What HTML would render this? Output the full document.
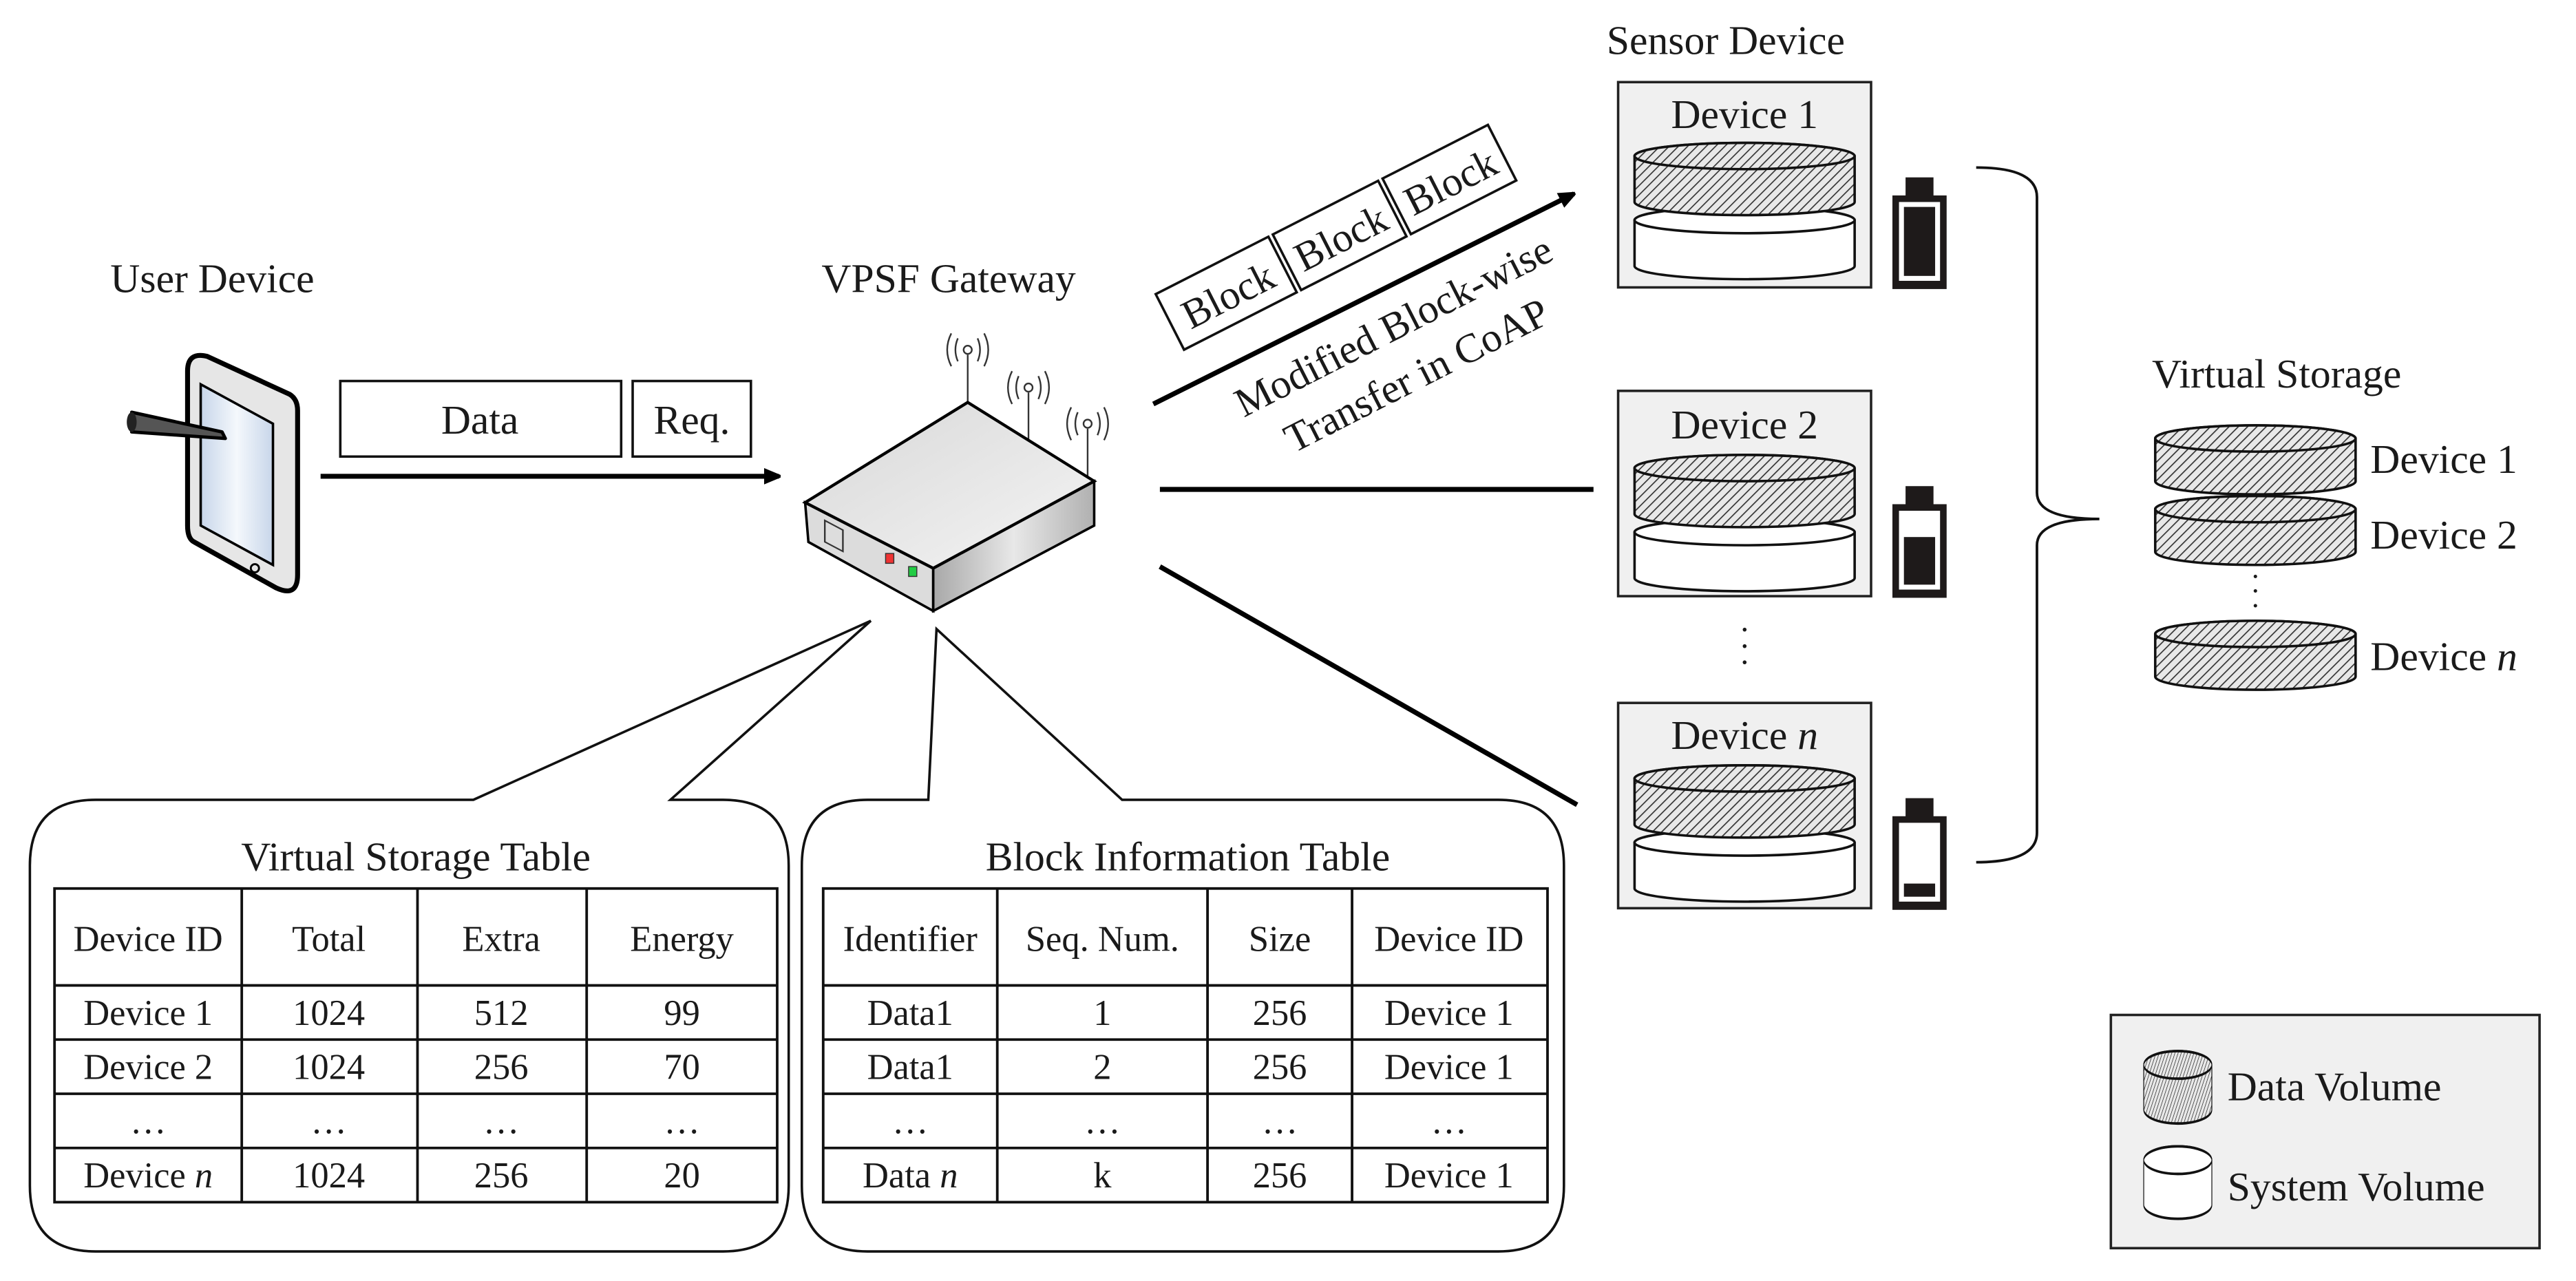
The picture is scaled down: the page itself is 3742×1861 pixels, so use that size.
<!DOCTYPE html>
<html><head><meta charset="utf-8"><style>
html,body{margin:0;padding:0;background:#fff}
svg{display:block}
text{font-family:"Liberation Serif",serif;fill:#1a1a1a}
</style></head><body>
<svg width="3742" height="1861" viewBox="0 0 1568 780" xmlns="http://www.w3.org/2000/svg">
<defs>
<pattern id="h" width="4" height="4" patternUnits="userSpaceOnUse" patternTransform="rotate(45)">
<rect width="4" height="4" fill="#e8e8e8"/><line x1="0" y1="0" x2="0" y2="4" stroke="#333" stroke-width="1.4"/>
</pattern>
<linearGradient id="scr" x1="0" y1="0" x2="1" y2="0"><stop offset="0" stop-color="#c8d6ea"/><stop offset="0.5" stop-color="#f4f8fc"/><stop offset="1" stop-color="#c8d6ea"/></linearGradient>
<linearGradient id="rt" x1="0" y1="0" x2="1" y2="1"><stop offset="0" stop-color="#d8d8d8"/><stop offset="1" stop-color="#f4f4f4"/></linearGradient>
<linearGradient id="rr" x1="0" y1="0" x2="1" y2="0"><stop offset="0" stop-color="#a8a8a8"/><stop offset="0.5" stop-color="#e8e8e8"/><stop offset="1" stop-color="#b0b0b0"/></linearGradient>
<marker id="ar" markerWidth="10" markerHeight="10" refX="9" refY="5" orient="auto" markerUnits="userSpaceOnUse"><path d="M0,0 L12,5 L0,10 z" fill="#000"/></marker>
<g id="cylH">
<path d="M0,8 A61,8 0 0 1 122,8 L122,34 A61,8 0 0 1 0,34 Z" fill="url(#h)" stroke="#111" stroke-width="1.5"/>
<ellipse cx="61" cy="8" rx="61" ry="8" fill="url(#h)" stroke="#111" stroke-width="1.5"/>
</g>
<g id="cylW">
<path d="M0,8 A61,8 0 0 1 122,8 L122,34 A61,8 0 0 1 0,34 Z" fill="#fff" stroke="#111" stroke-width="1.5"/>
<ellipse cx="61" cy="8" rx="61" ry="8" fill="#fff" stroke="#111" stroke-width="1.5"/>
</g>
<g id="dH">
<path d="M0,8 A67,8 0 0 1 134,8 L134,36 A67,8 0 0 1 0,36 Z" fill="url(#h)" stroke="#111" stroke-width="1.5"/>
<ellipse cx="67" cy="8" rx="67" ry="8" fill="url(#h)" stroke="#111" stroke-width="1.5"/>
</g>
<g id="dW">
<path d="M0,8 A67,8 0 0 1 134,8 L134,36 A67,8 0 0 1 0,36 Z" fill="#fff" stroke="#111" stroke-width="1.5"/>
<ellipse cx="67" cy="8" rx="67" ry="8" fill="#fff" stroke="#111" stroke-width="1.5"/>
</g>
</defs>

<!-- User device -->
<text x="67" y="178" font-size="25">User Device</text>
<path d="M114,226 Q114,214 126,217 L176,240 Q181,243 181,250 L181,350 Q181,364 168,358 L118,330 Q114,328 114,320 Z" fill="#e6e6e6" stroke="#000" stroke-width="3"/>
<path d="M122,234 L166,258 L166,344 L122,320 Z" fill="url(#scr)" stroke="#000" stroke-width="1.5"/>
<circle cx="155" cy="346" r="2.5" fill="none" stroke="#000" stroke-width="1.2"/>
<path d="M80,251 L135,263 L137,267 L80,263 Z" fill="#555" stroke="#000" stroke-width="2" stroke-linejoin="round"/>
<ellipse cx="80" cy="257" rx="3" ry="6" fill="#222"/>

<!-- Data / Req -->
<rect x="207" y="232" width="171" height="46" fill="#fff" stroke="#111" stroke-width="1.5"/>
<text x="292" y="264" font-size="25" text-anchor="middle">Data</text>
<rect x="385" y="232" width="72" height="46" fill="#fff" stroke="#111" stroke-width="1.5"/>
<text x="421" y="264" font-size="25" text-anchor="middle">Req.</text>
<line x1="195" y1="290" x2="474" y2="290" stroke="#000" stroke-width="3" marker-end="url(#ar)"/>

<!-- Gateway -->
<text x="500" y="178" font-size="25">VPSF Gateway</text>
<g stroke="#333" stroke-width="1" fill="none">
<line x1="589" y1="245" x2="589" y2="216"/><circle cx="589" cy="213" r="2.5"/>
<path d="M583,206 Q580,213 583,220 M595,206 Q598,213 595,220 M579,203 Q574,213 579,223 M599,203 Q604,213 599,223"/>
<line x1="626" y1="268" x2="626" y2="239"/><circle cx="626" cy="236" r="2.5"/>
<path d="M620,229 Q617,236 620,243 M632,229 Q635,236 632,243 M616,226 Q611,236 616,246 M636,226 Q641,236 636,246"/>
<line x1="662" y1="290" x2="662" y2="261"/><circle cx="662" cy="258" r="2.5"/>
<path d="M656,251 Q653,258 656,265 M668,251 Q671,258 668,265 M652,248 Q647,258 652,268 M672,248 Q677,258 672,268"/>
</g>
<path d="M490,306 L568,346 L568,372 L492,330 Z" fill="#dcdcdc" stroke="#000" stroke-width="1.5"/>
<path d="M568,346 L666,293 L666,320 L568,372 Z" fill="url(#rr)" stroke="#000" stroke-width="1.5"/>
<path d="M490,306 L589,245 L666,293 L568,346 Z" fill="url(#rt)" stroke="#000" stroke-width="1.8"/>
<rect x="502" y="318" width="11" height="13" fill="#ddd" stroke="#333" stroke-width="1" transform="skewY(28) translate(0,-268)"/>
<rect x="539" y="337" width="5" height="6" fill="#e33" stroke="#333" stroke-width="0.6"/>
<rect x="553" y="345" width="5" height="6" fill="#2c4" stroke="#333" stroke-width="0.6"/>

<!-- links to devices -->
<line x1="702" y1="246" x2="958" y2="118" stroke="#000" stroke-width="3" marker-end="url(#ar)"/>
<g transform="translate(708,188) rotate(-27)">
<rect x="0" y="-10" width="77" height="38" fill="#fff" stroke="#111" stroke-width="1.5"/>
<rect x="80" y="-10" width="72" height="38" fill="#fff" stroke="#111" stroke-width="1.5"/>
<rect x="155" y="-10" width="72" height="38" fill="#fff" stroke="#111" stroke-width="1.5"/>
<text x="39" y="19" font-size="25" text-anchor="middle">Block</text>
<text x="116" y="19" font-size="25" text-anchor="middle">Block</text>
<text x="191" y="19" font-size="25" text-anchor="middle">Block</text>
</g>
<text font-size="25" text-anchor="middle" transform="translate(852,206) rotate(-27)">Modified Block-wise</text>
<text font-size="25" text-anchor="middle" transform="translate(866,236) rotate(-27)">Transfer in CoAP</text>
<line x1="706" y1="298" x2="970" y2="298" stroke="#000" stroke-width="3"/>
<line x1="706" y1="345" x2="960" y2="490" stroke="#000" stroke-width="3"/>

<!-- Sensor devices -->
<text x="978" y="33" font-size="25">Sensor Device</text>
<g>
<rect x="985" y="50" width="154" height="125" fill="#f0f0f0" stroke="#222" stroke-width="1.5"/>
<text x="1062" y="78" font-size="25" text-anchor="middle">Device 1</text>
<use href="#dW" x="995" y="126"/>
<use href="#dH" x="995" y="87"/>
<rect x="1152" y="119" width="33" height="57" fill="#1e1a1a"/><rect x="1160" y="108" width="17" height="12" fill="#1e1a1a"/>
<rect x="1156" y="123" width="25" height="48" fill="#fff"/><rect x="1159" y="126" width="19" height="42" fill="#1e1a1a"/>
</g>
<g>
<rect x="985" y="238" width="154" height="125" fill="#f0f0f0" stroke="#222" stroke-width="1.5"/>
<text x="1062" y="267" font-size="25" text-anchor="middle">Device 2</text>
<use href="#dW" x="995" y="316"/>
<use href="#dH" x="995" y="277"/>
<rect x="1152" y="307" width="33" height="57" fill="#1e1a1a"/><rect x="1160" y="296" width="17" height="12" fill="#1e1a1a"/>
<rect x="1156" y="311" width="25" height="48" fill="#fff"/><rect x="1159" y="327" width="19" height="29" fill="#1e1a1a"/>
</g>
<text x="1062" y="390" font-size="20" text-anchor="middle">·</text>
<text x="1062" y="400" font-size="20" text-anchor="middle">·</text>
<text x="1062" y="410" font-size="20" text-anchor="middle">·</text>
<g>
<rect x="985" y="428" width="154" height="125" fill="#f0f0f0" stroke="#222" stroke-width="1.5"/>
<text x="1062" y="456" font-size="25" text-anchor="middle">Device <tspan font-style="italic">n</tspan></text>
<use href="#dW" x="995" y="505"/>
<use href="#dH" x="995" y="466"/>
<rect x="1152" y="497" width="33" height="57" fill="#1e1a1a"/><rect x="1160" y="486" width="17" height="12" fill="#1e1a1a"/>
<rect x="1156" y="501" width="25" height="48" fill="#fff"/><rect x="1159" y="538" width="19" height="8" fill="#1e1a1a"/>
</g>

<!-- brace -->
<path d="M1203,102 Q1240,102 1240,120 L1240,300 Q1240,316 1278,316 Q1240,316 1240,332 L1240,507 Q1240,525 1203,525" fill="none" stroke="#111" stroke-width="1.6"/>

<!-- Virtual storage -->
<text x="1310" y="236" font-size="25">Virtual Storage</text>
<use href="#cylH" x="1312" y="259"/>
<use href="#cylH" x="1312" y="302"/>
<use href="#cylH" x="1312" y="378"/>
<text x="1443" y="288" font-size="25">Device 1</text>
<text x="1443" y="334" font-size="25">Device 2</text>
<text x="1443" y="408" font-size="25">Device <tspan font-style="italic">n</tspan></text>
<text x="1373" y="357" font-size="18" text-anchor="middle">·</text>
<text x="1373" y="366" font-size="18" text-anchor="middle">·</text>
<text x="1373" y="375" font-size="18" text-anchor="middle">·</text>

<!-- legend -->
<rect x="1285" y="618" width="261" height="142" fill="#f0f0f0" stroke="#222" stroke-width="1.5"/>
<g transform="translate(1305,640) scale(0.34,1.05)"><use href="#cylH"/></g>
<g transform="translate(1305,698) scale(0.34,1.05)"><use href="#cylW"/></g>
<text x="1356" y="670" font-size="25">Data Volume</text>
<text x="1356" y="731" font-size="25">System Volume</text>

<!-- callouts -->
<path d="M288,487 L530,378 L408,487 L440,487 Q480,487 480,527 L480,722 Q480,762 440,762 L58,762 Q18,762 18,722 L18,527 Q18,487 58,487 Z" fill="#fff" stroke="#111" stroke-width="1.5"/>
<path d="M565,487 L570,383 L683,487 L912,487 Q952,487 952,527 L952,722 Q952,762 912,762 L528,762 Q488,762 488,722 L488,527 Q488,487 528,487 Z" fill="#fff" stroke="#111" stroke-width="1.5"/>

<!-- Virtual Storage Table -->
<text x="253" y="530" font-size="25" text-anchor="middle">Virtual Storage Table</text>
<g stroke="#111" stroke-width="1.6" fill="none">
<rect x="33" y="541" width="440" height="191"/>
<line x1="33" y1="600" x2="473" y2="600"/><line x1="33" y1="633" x2="473" y2="633"/><line x1="33" y1="666" x2="473" y2="666"/><line x1="33" y1="699" x2="473" y2="699"/>
<line x1="147" y1="541" x2="147" y2="732"/><line x1="254" y1="541" x2="254" y2="732"/><line x1="357" y1="541" x2="357" y2="732"/>
</g>
<g font-size="22" text-anchor="middle">
<text x="90" y="579">Device ID</text><text x="200" y="579">Total</text><text x="305" y="579">Extra</text><text x="415" y="579">Energy</text>
<text x="90" y="624">Device 1</text><text x="200" y="624">1024</text><text x="305" y="624">512</text><text x="415" y="624">99</text>
<text x="90" y="657">Device 2</text><text x="200" y="657">1024</text><text x="305" y="657">256</text><text x="415" y="657">70</text>
<text x="90" y="690">…</text><text x="200" y="690">…</text><text x="305" y="690">…</text><text x="415" y="690">…</text>
<text x="90" y="723">Device <tspan font-style="italic">n</tspan></text><text x="200" y="723">1024</text><text x="305" y="723">256</text><text x="415" y="723">20</text>
</g>

<!-- Block Information Table -->
<text x="723" y="530" font-size="25" text-anchor="middle">Block Information Table</text>
<g stroke="#111" stroke-width="1.6" fill="none">
<rect x="501" y="541" width="441" height="191"/>
<line x1="501" y1="600" x2="942" y2="600"/><line x1="501" y1="633" x2="942" y2="633"/><line x1="501" y1="666" x2="942" y2="666"/><line x1="501" y1="699" x2="942" y2="699"/>
<line x1="607" y1="541" x2="607" y2="732"/><line x1="735" y1="541" x2="735" y2="732"/><line x1="823" y1="541" x2="823" y2="732"/>
</g>
<g font-size="22" text-anchor="middle">
<text x="554" y="579">Identifier</text><text x="671" y="579">Seq. Num.</text><text x="779" y="579">Size</text><text x="882" y="579">Device ID</text>
<text x="554" y="624">Data1</text><text x="671" y="624">1</text><text x="779" y="624">256</text><text x="882" y="624">Device 1</text>
<text x="554" y="657">Data1</text><text x="671" y="657">2</text><text x="779" y="657">256</text><text x="882" y="657">Device 1</text>
<text x="554" y="690">…</text><text x="671" y="690">…</text><text x="779" y="690">…</text><text x="882" y="690">…</text>
<text x="554" y="723">Data <tspan font-style="italic">n</tspan></text><text x="671" y="723">k</text><text x="779" y="723">256</text><text x="882" y="723">Device 1</text>
</g>
</svg>
</body></html>
